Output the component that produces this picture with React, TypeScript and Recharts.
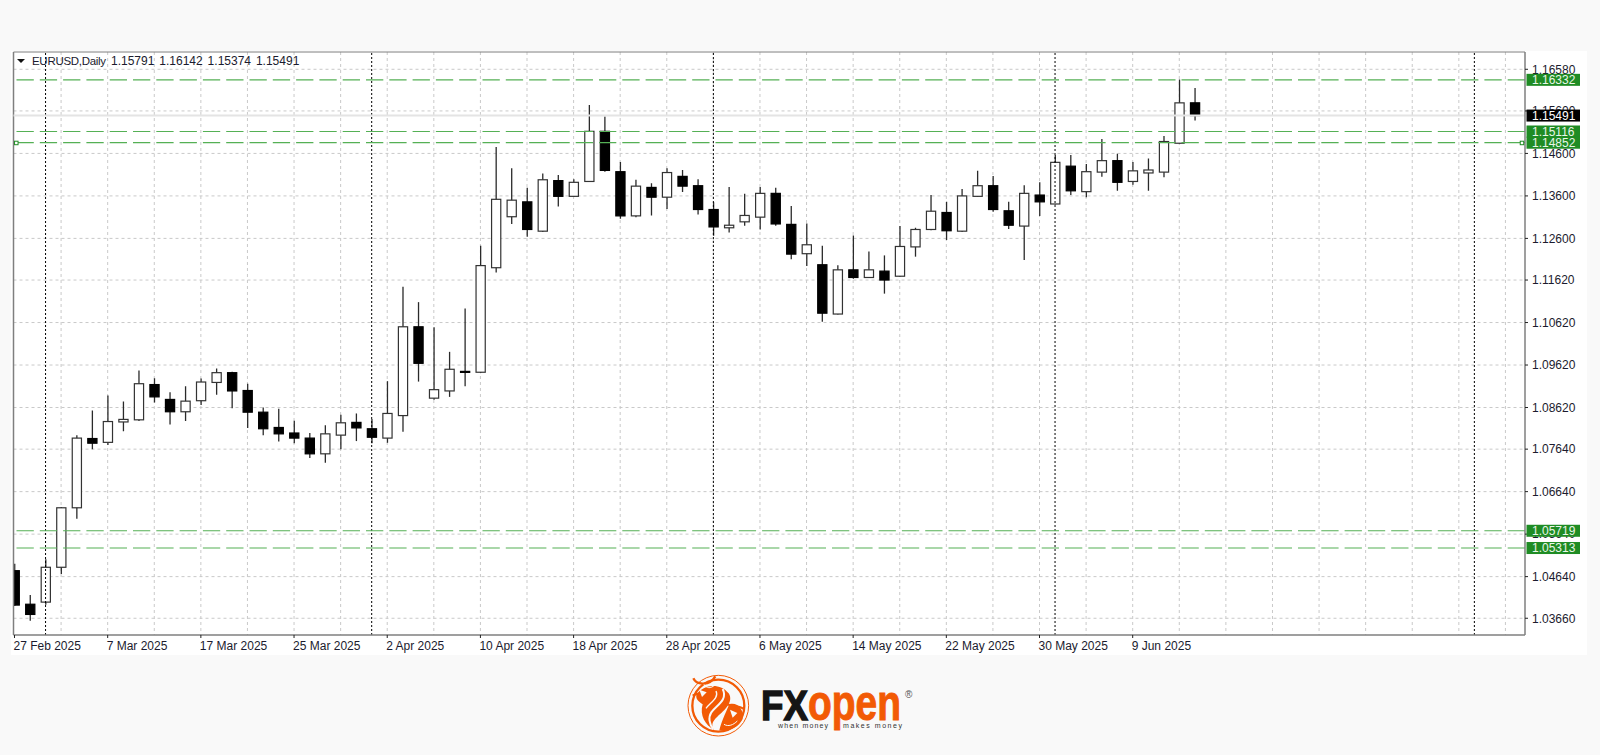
import React from "react";
import {
  ComposedChart,
  Bar,
  XAxis,
  YAxis,
  CartesianGrid,
  ReferenceLine,
  ReferenceDot,
} from "recharts";

// daily EURUSD candles, index 0 = 27 Feb 2025, one row per trading day
const opens = [
  1.0478, 1.0399, 1.0404, 1.0486, 1.0626, 1.0789, 1.078, 1.0828, 1.0833, 1.0916,
  1.0881, 1.0852, 1.0878, 1.0921, 1.0944, 1.0902, 1.0851, 1.0815, 1.0802, 1.079,
  1.0753, 1.0797, 1.0827, 1.0812, 1.079, 1.0843, 1.1052, 1.0884, 1.0901, 1.0947,
  1.0945, 1.1191, 1.1311, 1.1346, 1.1277, 1.1396, 1.1359, 1.1394, 1.1512, 1.1417,
  1.1313, 1.138, 1.1357, 1.1406, 1.1384, 1.1328, 1.1285, 1.1299, 1.131, 1.1366,
  1.1293, 1.1224, 1.1198, 1.1082, 1.1186, 1.1168, 1.1183, 1.1171, 1.124, 1.1281,
  1.1321, 1.1277, 1.1359, 1.1384, 1.1325, 1.1289, 1.1362, 1.1341, 1.143, 1.137,
  1.1416, 1.1443, 1.1394, 1.1414, 1.1416, 1.1484, 1.15791,
];
const highs = [
  1.0494, 1.0421, 1.0505, 1.0628, 1.0797, 1.0855, 1.089, 1.0876, 1.0949, 1.0931,
  1.0898, 1.0912, 1.093, 1.0954, 1.0946, 1.0918, 1.0862, 1.0859, 1.0831, 1.0802,
  1.082, 1.0845, 1.0848, 1.0835, 1.0924, 1.1146, 1.111, 1.1051, 1.0993, 1.1095,
  1.1243, 1.1475, 1.1425, 1.1379, 1.1413, 1.1409, 1.1399, 1.1574, 1.1547, 1.144,
  1.1398, 1.139, 1.1425, 1.1421, 1.1399, 1.1345, 1.1381, 1.1365, 1.1381, 1.1379,
  1.1336, 1.1295, 1.1243, 1.1197, 1.1267, 1.1229, 1.122, 1.1289, 1.1285, 1.1362,
  1.1346, 1.1376, 1.1419, 1.1407, 1.1346, 1.1385, 1.1392, 1.1456, 1.1456, 1.1435,
  1.1494, 1.1459, 1.144, 1.1448, 1.1501, 1.1634, 1.16142,
];
const lows = [
  1.0395, 1.036, 1.0398, 1.047, 1.06, 1.0764, 1.0774, 1.0806, 1.083, 1.0874,
  1.0822, 1.083, 1.0868, 1.0892, 1.086, 1.0814, 1.0797, 1.0782, 1.0778, 1.0743,
  1.0732, 1.0764, 1.0783, 1.0778, 1.0779, 1.0805, 1.0923, 1.088, 1.0887, 1.0912,
  1.0943, 1.118, 1.1294, 1.1264, 1.1275, 1.1335, 1.1358, 1.1393, 1.1417, 1.1306,
  1.131, 1.1314, 1.1329, 1.1369, 1.1316, 1.1266, 1.1274, 1.129, 1.1281, 1.129,
  1.1211, 1.1195, 1.1064, 1.1081, 1.1165, 1.1167, 1.113, 1.117, 1.1217, 1.1279,
  1.1256, 1.1275, 1.1358, 1.1323, 1.1282, 1.1209, 1.1313, 1.134, 1.1362, 1.1357,
  1.1405, 1.1372, 1.1386, 1.1372, 1.1404, 1.1483, 1.15374,
];
const closes = [
  1.0397, 1.0375, 1.0486, 1.0626, 1.079, 1.0778, 1.0829, 1.0834, 1.0918, 1.0887,
  1.0852, 1.0877, 1.0922, 1.0944, 1.0901, 1.0851, 1.0812, 1.08, 1.079, 1.0753,
  1.08, 1.0826, 1.0814, 1.0792, 1.0848, 1.1052, 1.0966, 1.0904, 1.0952, 1.0946,
  1.1196, 1.1352, 1.135, 1.1281, 1.1398, 1.1359, 1.1392, 1.1512, 1.142, 1.1313,
  1.1383, 1.1357, 1.1415, 1.1383, 1.1328, 1.1287, 1.1291, 1.1314, 1.1366, 1.1294,
  1.1223, 1.1245, 1.1084, 1.1186, 1.1168, 1.1186, 1.1162, 1.1241, 1.1281, 1.1324,
  1.1278, 1.136, 1.1384, 1.1328, 1.1291, 1.1366, 1.1346, 1.1439, 1.1372, 1.1417,
  1.1443, 1.1392, 1.1419, 1.1421, 1.1488, 1.1579, 1.15491,
];

const priceTicks = [
  1.1658, 1.156, 1.146, 1.136, 1.126, 1.1162, 1.1062, 1.0962, 1.0862, 1.0764,
  1.0664, 1.0564, 1.0464, 1.0366,
];
const dateTickIndex = [0, 6, 12, 18, 24, 30, 36, 42, 48, 54, 60, 66, 72];
const dateTickLabels = [
  "27 Feb 2025", "7 Mar 2025", "17 Mar 2025", "25 Mar 2025", "2 Apr 2025",
  "10 Apr 2025", "18 Apr 2025", "28 Apr 2025", "6 May 2025", "14 May 2025",
  "22 May 2025", "30 May 2025", "9 Jun 2025",
];
const gridIndex = [
  3, 6, 9, 12, 15, 18, 21, 24, 27, 30, 33, 36, 39, 42, 45, 48, 51, 54, 57, 60, 63,
  66, 69, 72, 75, 78, 81, 84, 87, 90, 93, 96,
];
const periodBreaks = [2, 23, 45, 67, 94];
const levels = [1.16332, 1.15116, 1.14852, 1.05719, 1.05313];
const lastPrice = 1.15491;
const anchorLevel = 1.14852;
const anchorIndex = [0.1, 97.05];
const symbolName = "EURUSD,Daily";
const header = ["1.15791", "1.16142", "1.15374", "1.15491"];

const candles = opens.map((open, i) => ({
  i,
  open,
  high: highs[i],
  low: lows[i],
  close: closes[i],
}));

const X_DOMAIN = [-0.064, 97.26];
const Y_DOMAIN = [1.03266, 1.16987];
const FONT = "'Liberation Sans', Arial, sans-serif";
const TEXT = "#1b1b2e";
const FRAME = "#7f7f7f";
const GREEN_LINE = "#55b055";
const GREEN_TAG = "#1f8c24";

// wick + body, the bar itself only spans low..high
function Candle(props: any) {
  const { x, y, width, height, payload } = props;
  const { open, high, low, close } = payload;
  const perUnit = height / (high - low);
  const cx = x + width / 2;
  const yOpen = y + (high - open) * perUnit;
  const yClose = y + (high - close) * perUnit;
  const top = Math.min(yOpen, yClose);
  const bodyH = Math.max(Math.abs(yOpen - yClose), 1);
  const up = close >= open;
  return (
    <g>
      <line x1={cx} x2={cx} y1={y} y2={y + height} stroke="#2a2a2a" strokeWidth={1.3} />
      <rect
        x={cx - 4.6}
        y={top}
        width={9.2}
        height={bodyH}
        fill={up ? "#fff" : "#000"}
        stroke={up ? "#333" : "#000"}
        strokeWidth={1.2}
      />
    </g>
  );
}

function DateTick({ x, y, payload }: any) {
  const label = dateTickLabels[dateTickIndex.indexOf(payload.value)];
  return (
    <text x={x - 1} y={y + 9.5} fontSize={12} fontFamily={FONT} fill={TEXT}>
      {label}
    </text>
  );
}

// plain ticks first, then the level tags, so the tags cover what they overlap
function PriceTick({ x, y, payload }: any) {
  const value = payload.value;
  const isLast = value === lastPrice;
  if (isLast || levels.includes(value)) {
    return (
      <g>
        <rect x={x - 5.5} y={y - 6} width={53.5} height={12} fill={isLast ? "#000" : GREEN_TAG} />
        <text
          x={x}
          y={y + 4.3}
          fontSize={12}
          fontFamily={FONT}
          fill={isLast ? "#fff" : "#e9f6e9"}
        >
          {value.toFixed(5)}
        </text>
      </g>
    );
  }
  return (
    <g>
      <line x1={x - 7} x2={x - 4} y1={y} y2={y} stroke="#222" />
      <text x={x} y={y + 4.3} fontSize={12} fontFamily={FONT} fill={TEXT}>
        {value.toFixed(5)}
      </text>
    </g>
  );
}

function Logo() {
  const orange = "#f25a05";
  const paper = "#f9f9f9";
  return (
    <div style={{ position: "absolute", left: 680, top: 665, width: 240, height: 80 }}>
      <svg width={240} height={80} style={{ display: "block", overflow: "visible" }}>
        <g transform="scale(0.3333)">
          <circle cx={115} cy={122} r={91} fill="none" stroke={orange} strokeWidth={3} />
          <circle cx={115} cy={122} r={78} fill="none" stroke={orange} strokeWidth={7} />
          <path
            d="M50 88 C70 58 120 52 146 85 C162 110 135 135 112 155 C98 168 92 180 102 194 C76 182 58 150 68 118 C55 110 45 100 50 88Z"
            fill={orange}
          />
          <path
            d="M118 196 C124 172 134 150 148 118 C172 110 194 135 188 162 C174 190 145 200 118 196Z"
            fill={orange}
          />
          <path d="M40 40 C50 62 90 62 106 34" fill="none" stroke={orange} strokeWidth={7} />
          <path d="M38 92 C50 84 62 84 76 90" fill="none" stroke={orange} strokeWidth={6} />
          <path d="M130 112 C150 126 175 120 192 132" fill="none" stroke={orange} strokeWidth={6} />
          <path d="M128 72 C145 105 108 122 94 142 C84 158 88 178 100 192" fill="none" stroke={paper} strokeWidth={6} />
          <path d="M108 78 C118 98 92 112 78 130" fill="none" stroke={paper} strokeWidth={4} />
          <path d="M72 58 C80 70 92 72 104 60" fill="none" stroke={paper} strokeWidth={3} />
          <path d="M58 74 L80 82 L66 96Z" fill={paper} />
          <path d="M150 134 L172 144 L158 158Z" fill={paper} />
          <path d="M132 178 C145 186 160 180 172 168" fill="none" stroke={paper} strokeWidth={3} />
        </g>
        <text
          x={81}
          y={55}
          fontFamily={FONT}
          fontWeight={700}
          fontSize={43}
          fill="#151515"
          stroke="#151515"
          strokeWidth={1.4}
          textLength={47}
          lengthAdjust="spacingAndGlyphs"
        >
          FX
        </text>
        <text
          x={128}
          y={55}
          fontFamily={FONT}
          fontWeight={700}
          fontSize={50}
          fill={orange}
          stroke={orange}
          strokeWidth={1}
          textLength={93}
          lengthAdjust="spacingAndGlyphs"
        >
          open
        </text>
        <text x={98} y={62.5} fontFamily={FONT} fontSize={7} fill="#333" textLength={50}>
          when money
        </text>
        <text x={163} y={62.5} fontFamily={FONT} fontSize={7} fill="#333" textLength={59}>
          makes money
        </text>
        <text x={225} y={33} fontFamily={FONT} fontSize={10} fill="#555">
          ®
        </text>
      </svg>
    </div>
  );
}

export default function App() {
  return (
    <div
      style={{
        position: "absolute",
        left: 0,
        top: 0,
        width: 1600,
        height: 755,
        background: "#f9f9f9",
        overflow: "hidden",
      }}
    >
      <div
        style={{
          position: "absolute",
          left: 11,
          top: 51,
          width: 1576,
          height: 604,
          background: "#fff",
        }}
      />
      <div style={{ position: "absolute", left: 0, top: 0 }}>
        <ComposedChart
          width={1600}
          height={755}
          data={candles}
          margin={{ top: 52, right: 0, bottom: 0, left: 13.5 }}
        >
          <CartesianGrid
            stroke="#c9c9c9"
            strokeDasharray="3 3"
            verticalValues={gridIndex}
            horizontalValues={priceTicks}
          />
          <XAxis
            dataKey="i"
            type="number"
            domain={X_DOMAIN}
            allowDataOverflow
            ticks={dateTickIndex}
            interval={0}
            tick={DateTick}
            tickSize={3}
            height={120}
            stroke={FRAME}
            axisLine={{ stroke: FRAME, strokeWidth: 1.5 }}
            tickLine={{ stroke: "#222" }}
          />
          <YAxis
            orientation="right"
            domain={Y_DOMAIN}
            allowDataOverflow
            ticks={[...priceTicks, ...levels, lastPrice]}
            interval={0}
            width={75}
            tickSize={3}
            tickMargin={4}
            tick={PriceTick}
            axisLine={{ stroke: FRAME, strokeWidth: 1.5 }}
            tickLine={false}
          />
          <ReferenceLine x={X_DOMAIN[0]} stroke={FRAME} strokeWidth={1.5} />
          <ReferenceLine y={Y_DOMAIN[1]} stroke={FRAME} strokeWidth={1} />
          {periodBreaks.map((b) => (
            <ReferenceLine key={b} x={b} stroke="#000" strokeWidth={1} strokeDasharray="2 2" />
          ))}
          <ReferenceLine y={lastPrice} stroke="#e4e4e4" strokeWidth={2} />
          {levels.map((lv) => (
            <ReferenceLine
              key={lv}
              y={lv}
              stroke={GREEN_LINE}
              strokeWidth={1.2}
              strokeDasharray="17.3 6"
            />
          ))}
          {anchorIndex.map((a) => (
            <ReferenceDot
              key={a}
              x={a}
              y={anchorLevel}
              shape={(p: any) => (
                <rect
                  x={p.cx - 1.5}
                  y={p.cy - 1.5}
                  width={3.5}
                  height={3.5}
                  fill="#fff"
                  stroke={GREEN_TAG}
                  strokeWidth={1}
                />
              )}
            />
          ))}
          <Bar
            dataKey={(d: any) => [d.low, d.high]}
            barSize={10}
            shape={Candle}
            isAnimationActive={false}
          />
        </ComposedChart>
      </div>
      <div
        style={{
          position: "absolute",
          left: 32,
          top: 54,
          fontFamily: FONT,
          fontSize: 11.5,
          lineHeight: "14px",
          letterSpacing: -0.3,
          color: TEXT,
          whiteSpace: "nowrap",
        }}
      >
        {symbolName}
      </div>
      <div
        style={{
          position: "absolute",
          left: 111,
          top: 54,
          fontFamily: FONT,
          fontSize: 12,
          lineHeight: "14px",
          wordSpacing: 1.6,
          color: TEXT,
          whiteSpace: "nowrap",
        }}
      >
        {header.join(" ")}
      </div>
      <div
        style={{
          position: "absolute",
          left: 17,
          top: 59,
          width: 0,
          height: 0,
          borderLeft: "4px solid transparent",
          borderRight: "4px solid transparent",
          borderTop: "4px solid #111",
        }}
      />
      <Logo />
    </div>
  );
}
